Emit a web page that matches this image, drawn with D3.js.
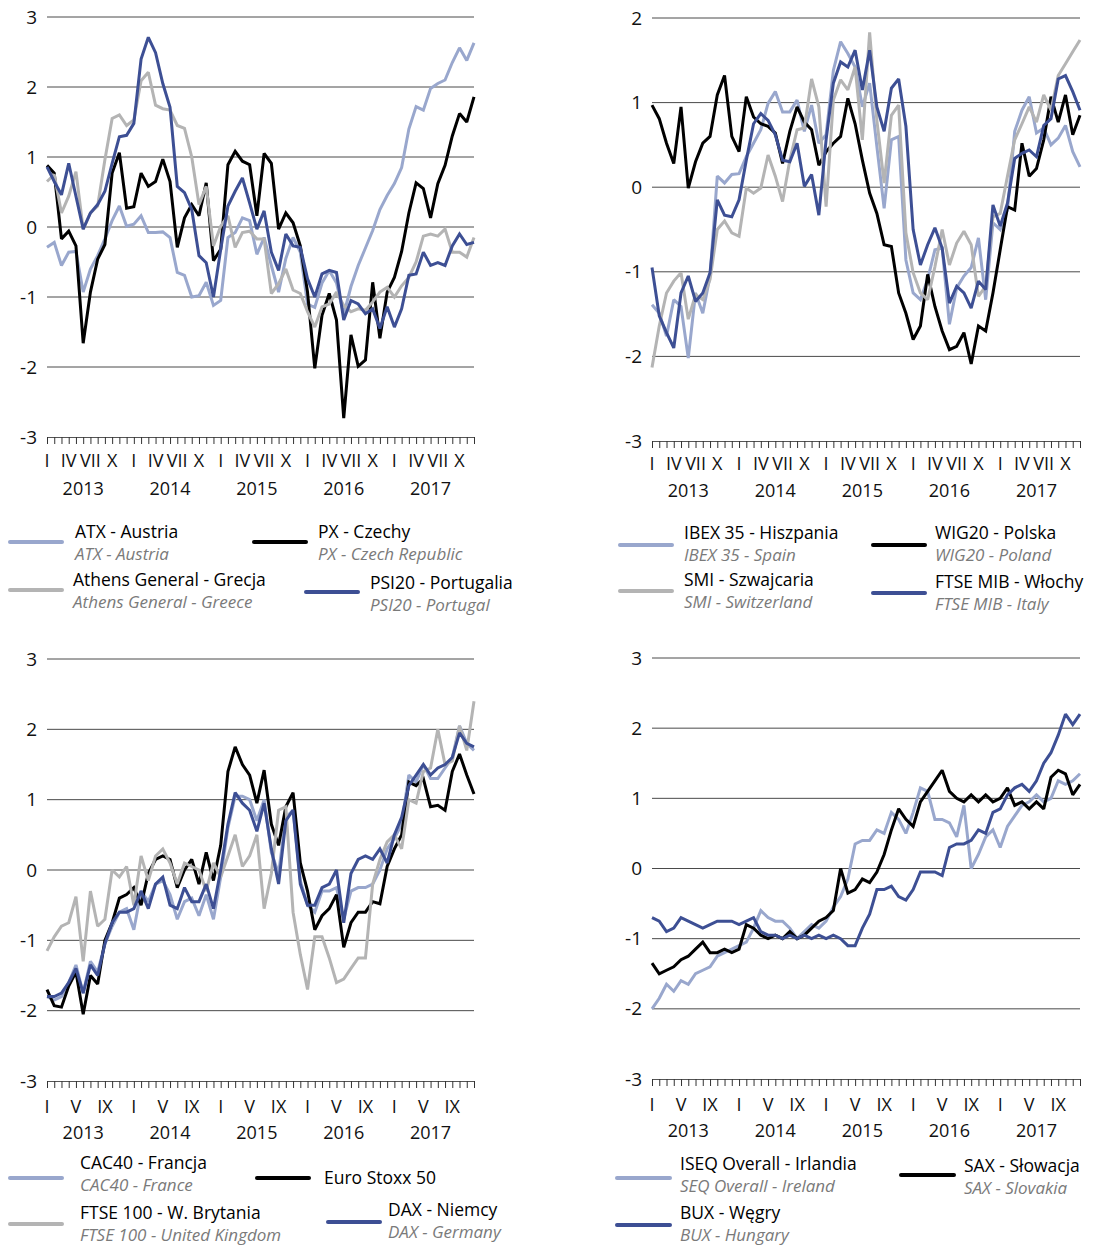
<!DOCTYPE html>
<html><head><meta charset="utf-8">
<script src="https://cdn.jsdelivr.net/npm/d3@7"></script>
<style>body{margin:0;background:#fff}svg{display:block}text{font-family:"Open Sans",sans-serif}</style>
</head><body><svg id="c" width="1111" height="1246"></svg>
<script>
const years = ["2013","2014","2015","2016","2017"];
const monthNames = ["I","II","III","IV","V","VI","VII","VIII","IX","X","XI","XII"];
const categories = years.flatMap(y => monthNames.map(m => y + "-" + m));
const topMonthTicks = ["I","IV","VII","X"];
const bottomMonthTicks = ["I","V","IX"];
const yTicksA = [3,2,1,0,-1,-2,-3];
const yTicksB = [2,1,0,-1,-2,-3];

// Panel 1
const atx = [-0.29,-0.22,-0.55,-0.36,-0.35,-0.93,-0.60,-0.41,-0.17,0.09,
 0.30,0.01,0.04,0.16,-0.08,-0.08,-0.07,-0.15,-0.65,-0.69,
 -1.0,-0.98,-0.79,-1.12,-1.05,-0.15,-0.08,0.13,0.09,-0.39,
 -0.15,-0.55,-0.93,-0.45,-0.15,-0.36,-1.1,-1.15,-0.8,-0.62,
 -0.8,-1.25,-0.85,-0.55,-0.3,-0.05,0.25,0.45,0.62,0.85,
 1.4,1.72,1.67,1.98,2.05,2.1,2.35,2.56,2.38,2.63];
const px = [0.88,0.77,-0.17,-0.06,-0.27,-1.66,-0.93,-0.46,-0.25,0.77,
 1.06,0.27,0.29,0.77,0.58,0.65,0.97,0.65,-0.29,0.13,
 0.32,0.16,0.63,-0.48,-0.32,0.89,1.08,0.94,0.89,0.16,
 1.05,0.91,-0.03,0.20,0.06,-0.27,-0.93,-2.02,-1.26,-0.95,
 -1.33,-2.73,-1.54,-1.99,-1.90,-0.79,-1.59,-0.93,-0.72,-0.35,
 0.2,0.63,0.55,0.13,0.62,0.88,1.3,1.62,1.5,1.86];
const athens = [0.65,0.75,0.2,0.44,0.79,-0.03,0.2,0.3,0.96,1.55,
 1.6,1.45,1.53,2.09,2.21,1.74,1.69,1.67,1.45,1.41,
 1.0,0.32,0.58,-0.27,0.01,0.16,-0.29,-0.08,-0.06,-0.17,
 -0.17,-0.95,-0.81,-0.6,-0.9,-0.95,-1.21,-1.43,-1.14,-1.1,
 -0.93,-1.12,-1.21,-1.17,-1.19,-1.07,-0.93,-0.86,-1.0,-0.84,
 -0.72,-0.5,-0.13,-0.1,-0.13,-0.03,-0.36,-0.36,-0.43,-0.15];
const psi20 = [0.86,0.65,0.46,0.91,0.44,-0.03,0.2,0.32,0.51,0.91,
 1.29,1.31,1.48,2.4,2.71,2.49,2.05,1.71,0.58,0.49,
 0.25,-0.41,-0.51,-1.0,-0.32,0.3,0.51,0.7,0.34,-0.03,
 0.23,-0.36,-0.62,-0.1,-0.27,-0.29,-0.74,-1.0,-0.67,-0.62,
 -0.65,-1.33,-1.05,-1.1,-1.24,-1.17,-1.45,-1.14,-1.43,-1.17,
 -0.69,-0.67,-0.36,-0.55,-0.51,-0.55,-0.27,-0.1,-0.25,-0.22];

// Panel 2
const ibex = [-1.39,-1.49,-1.76,-1.33,-1.41,-2.02,-1.25,-1.49,-1.05,0.13,
 0.05,0.15,0.16,0.36,0.52,0.68,0.99,1.13,0.89,0.89,
 1.03,0.66,0.97,0.52,0.62,1.38,1.72,1.58,1.42,0.95,
 1.23,0.48,-0.25,0.56,0.6,-0.86,-1.25,-1.33,-1.09,-0.74,
 -0.72,-1.62,-1.19,-1.05,-0.95,-0.6,-1.33,-0.42,-0.5,-0.27,
 0.66,0.91,1.07,0.64,0.7,0.5,0.58,0.73,0.42,0.24];
const wig20 = [0.97,0.81,0.52,0.28,0.95,-0.01,0.3,0.52,0.6,1.09,
 1.32,0.6,0.42,1.07,0.83,0.75,0.72,0.64,0.28,0.66,
 0.95,0.77,0.68,0.26,0.42,0.52,0.6,1.05,0.75,0.32,
 -0.07,-0.31,-0.68,-0.7,-1.25,-1.49,-1.8,-1.64,-1.03,-1.41,
 -1.7,-1.92,-1.88,-1.72,-2.09,-1.64,-1.7,-1.25,-0.74,-0.23,
 -0.27,0.52,0.13,0.22,0.56,1.07,0.77,1.09,0.62,0.85];
const smi = [-2.13,-1.64,-1.25,-1.11,-1.01,-1.56,-1.27,-1.33,-1.09,-0.5,
 -0.4,-0.54,-0.58,-0.01,-0.07,-0.01,0.38,0.13,-0.17,0.32,
 0.68,0.7,1.28,0.95,-0.23,1.03,1.27,1.15,1.42,0.56,
 1.83,0.79,0.05,0.85,0.97,-0.54,-1.01,-1.25,-1.33,-0.94,
 -0.5,-0.92,-0.66,-0.52,-0.68,-1.29,-1.17,-0.35,-0.31,0.13,
 0.56,0.75,0.95,0.77,1.09,0.91,1.32,1.46,1.6,1.74];
const ftsemib = [-0.95,-1.52,-1.72,-1.9,-1.25,-1.05,-1.35,-1.25,-1.01,-0.15,
 -0.33,-0.35,-0.15,0.32,0.75,0.87,0.79,0.62,0.32,0.3,
 0.52,0.01,0.15,-0.33,0.56,1.23,1.48,1.42,1.62,1.15,
 1.62,0.95,0.66,1.17,1.28,0.72,-0.5,-0.92,-0.68,-0.48,
 -0.72,-1.37,-1.17,-1.25,-1.43,-1.11,-1.21,-0.21,-0.46,-0.19,
 0.34,0.4,0.44,0.36,0.73,0.81,1.28,1.32,1.13,0.91];

// Panel 3
const cac40 = [-1.8,-1.85,-1.8,-1.6,-1.35,-1.75,-1.3,-1.45,-1.05,-0.8,
 -0.6,-0.55,-0.85,-0.3,-0.45,-0.2,-0.15,-0.35,-0.7,-0.45,
 -0.4,-0.65,-0.35,-0.7,-0.1,0.6,1.05,1.05,1.0,0.7,
 1.0,0.25,-0.05,0.75,0.85,-0.15,-0.5,-0.6,-0.3,-0.3,
 -0.25,-0.7,-0.3,-0.25,-0.25,-0.2,0.0,0.3,0.45,0.65,
 1.35,1.25,1.5,1.3,1.3,1.45,1.6,2.05,1.8,1.7];
const eurostoxx = [-1.7,-1.93,-1.95,-1.65,-1.45,-2.05,-1.5,-1.62,-1.0,-0.75,
 -0.4,-0.35,-0.25,-0.5,-0.05,0.15,0.2,0.15,-0.25,0.0,
 0.15,-0.2,0.25,-0.15,0.35,1.4,1.75,1.5,1.35,0.95,
 1.42,0.65,0.35,0.9,1.1,0.1,-0.3,-0.85,-0.65,-0.55,
 -0.35,-1.1,-0.75,-0.6,-0.6,-0.45,-0.48,0.05,0.3,0.5,
 1.25,1.2,1.3,0.9,0.92,0.85,1.4,1.65,1.35,1.08];
const ftse100 = [-1.15,-0.95,-0.8,-0.75,-0.38,-1.3,-0.3,-0.8,-0.7,0.0,
 -0.1,0.05,-0.5,0.2,-0.15,0.2,0.3,0.1,-0.2,0.1,
 0.05,0.0,-0.3,0.1,-0.1,0.2,0.5,0.05,0.2,0.5,
 -0.55,-0.05,0.85,0.9,-0.6,-1.2,-1.7,-0.95,-0.95,-1.25,
 -1.6,-1.55,-1.4,-1.25,-1.25,-0.2,0.15,0.4,0.5,0.3,
 1.0,0.95,1.4,1.45,2.0,1.5,1.55,2.05,1.7,2.4];
const dax = [-1.8,-1.8,-1.75,-1.6,-1.4,-1.75,-1.35,-1.5,-1.05,-0.75,
 -0.6,-0.6,-0.55,-0.3,-0.55,-0.2,-0.1,-0.5,-0.55,-0.25,
 -0.45,-0.45,-0.2,-0.55,0.0,0.65,1.1,0.95,0.85,0.55,
 0.95,0.3,-0.2,0.7,0.85,-0.2,-0.5,-0.5,-0.25,-0.2,
 0.0,-0.75,-0.05,0.15,0.2,0.15,0.3,0.1,0.5,0.75,
 1.2,1.35,1.5,1.35,1.45,1.5,1.6,1.95,1.8,1.75];

// Panel 4
const iseq = [-2.0,-1.85,-1.65,-1.75,-1.6,-1.65,-1.5,-1.45,-1.4,-1.25,
 -1.2,-1.15,-1.1,-1.05,-0.85,-0.6,-0.7,-0.75,-0.75,-0.85,
 -1.0,-0.9,-0.8,-0.85,-0.75,-0.55,-0.4,-0.15,0.35,0.4,
 0.4,0.55,0.5,0.8,0.7,0.5,0.8,1.15,1.1,0.7,
 0.7,0.65,0.45,0.9,0.0,0.2,0.45,0.55,0.3,0.6,
 0.75,0.9,0.95,1.05,0.95,1.0,1.25,1.2,1.25,1.35];
const sax = [-1.35,-1.5,-1.45,-1.4,-1.3,-1.25,-1.15,-1.05,-1.2,-1.2,
 -1.15,-1.2,-1.15,-0.8,-0.85,-0.95,-1.0,-0.95,-1.0,-0.9,
 -1.0,-0.95,-0.85,-0.75,-0.7,-0.6,0.0,-0.35,-0.3,-0.15,
 -0.2,-0.05,0.2,0.55,0.85,0.7,0.6,0.95,1.1,1.25,
 1.4,1.1,1.0,0.95,1.05,0.95,1.05,0.95,1.0,1.15,
 0.9,0.95,0.85,0.95,0.85,1.3,1.4,1.35,1.05,1.2];
const bux = [-0.7,-0.75,-0.9,-0.85,-0.7,-0.75,-0.8,-0.85,-0.8,-0.75,
 -0.75,-0.75,-0.8,-0.75,-0.7,-0.9,-0.95,-0.95,-1.0,-0.95,
 -1.0,-0.95,-1.0,-0.95,-1.0,-0.95,-1.0,-1.1,-1.1,-0.85,
 -0.65,-0.3,-0.3,-0.25,-0.4,-0.45,-0.3,-0.05,-0.05,-0.05,
 -0.1,0.3,0.35,0.35,0.4,0.55,0.5,0.8,0.85,1.05,
 1.15,1.2,1.1,1.25,1.5,1.65,1.9,2.2,2.05,2.2];

const C = {lb:"#99a7cd", bk:"#000000", gr:"#b4b4b4", db:"#3d4f94"};

const svg = d3.select("#c");

function drawPanel(p) {
  const x = d3.scalePoint().domain(categories).range([p.x0, p.x1]);
  const y = d3.scaleLinear().domain(p.domain).range([p.yBot, p.yTop]);
  const g = svg.append("g");
  g.selectAll("line.grid").data(p.yTicks.filter(v => v !== p.domain[0])).enter().append("line")
    .attr("x1", p.x0).attr("x2", p.x1).attr("y1", d => y(d)).attr("y2", d => y(d))
    .attr("stroke", "#4a4a4a").attr("stroke-width", 1);
  const ax = d3.axisBottom(x).tickSize(7).tickFormat("").tickSizeOuter(0);
  const axg = g.append("g").attr("transform", `translate(0,${y(p.domain[0])})`).call(ax);
  axg.select(".domain").attr("stroke", "#555").attr("stroke-width", 1.2);
  axg.selectAll(".tick line").attr("stroke", "#333").attr("stroke-width", 1);
  g.selectAll("text.yl").data(p.yTicks).enter().append("text")
    .attr("x", p.x0 - 10).attr("y", d => y(d)).attr("dy", "0.35em")
    .attr("text-anchor", "end").attr("font-size", 19).attr("fill", "#111")
    .text(d => d);
  const monthLabels = [];
  years.forEach(yr => p.monthTicks.forEach(m => monthLabels.push({c: yr + "-" + m, t: m})));
  g.selectAll("text.ml").data(monthLabels).enter().append("text")
    .attr("x", d => x(d.c)).attr("y", p.monthY).attr("text-anchor", "middle")
    .attr("font-size", 18).attr("fill", "#111").text(d => d.t);
  g.selectAll("text.yr").data(years).enter().append("text")
    .attr("x", d => x(d + "-VI")).attr("y", p.yearY).attr("text-anchor", "middle")
    .attr("font-size", 18).attr("fill", "#111").text(d => d);
  const line = d3.line().x((d, i) => x(categories[i])).y(d => y(d));
  p.series.forEach(s => {
    g.append("path").datum(s.values).attr("d", line)
      .attr("fill", "none").attr("stroke", s.color).attr("stroke-width", 3)
      .attr("stroke-linejoin", "miter").attr("stroke-miterlimit", 2);
  });
  p.legend.forEach(l => {
    g.append("line").attr("x1", l.sx1).attr("x2", l.sx2).attr("y1", l.sy).attr("y2", l.sy)
      .attr("stroke", l.color).attr("stroke-width", 4).attr("stroke-linecap", "round");
    g.append("text").attr("x", l.tx).attr("y", l.ty).attr("font-size", 17.5).attr("fill", "#000").text(l.pl);
    if (l.en) g.append("text").attr("x", l.tx).attr("y", l.ty + 21.5).attr("font-size", 17)
      .attr("font-style", "italic").attr("fill", "#7a7a7a").text(l.en);
  });
}

drawPanel({x0:47, x1:474, yTop:17, yBot:437, domain:[-3,3], yTicks:yTicksA,
  monthTicks: topMonthTicks, monthY:467, yearY:495,
  series:[{values:atx,color:C.lb},{values:px,color:C.bk},{values:athens,color:C.gr},{values:psi20,color:C.db}],
  legend:[
    {color:C.lb, sx1:10, sx2:62, sy:542, tx:75, ty:538, pl:"ATX - Austria", en:"ATX - Austria"},
    {color:C.bk, sx1:254, sx2:306, sy:542, tx:318, ty:538, pl:"PX - Czechy", en:"PX - Czech Republic"},
    {color:C.gr, sx1:10, sx2:62, sy:590, tx:73, ty:586, pl:"Athens General - Grecja", en:"Athens General - Greece"},
    {color:C.db, sx1:306, sx2:358, sy:592, tx:370, ty:589, pl:"PSI20 - Portugalia", en:"PSI20 - Portugal"}
  ]});

drawPanel({x0:652, x1:1080, yTop:18, yBot:441, domain:[-3,2], yTicks:yTicksB,
  monthTicks: topMonthTicks, monthY:470, yearY:497,
  series:[{values:ibex,color:C.lb},{values:wig20,color:C.bk},{values:smi,color:C.gr},{values:ftsemib,color:C.db}],
  legend:[
    {color:C.lb, sx1:620, sx2:672, sy:545, tx:684, ty:539, pl:"IBEX 35 - Hiszpania", en:"IBEX 35 - Spain"},
    {color:C.bk, sx1:873, sx2:925, sy:545, tx:935, ty:539, pl:"WIG20 - Polska", en:"WIG20 - Poland"},
    {color:C.gr, sx1:620, sx2:672, sy:591, tx:684, ty:586, pl:"SMI - Szwajcaria", en:"SMI - Switzerland"},
    {color:C.db, sx1:873, sx2:925, sy:593, tx:935, ty:588, pl:"FTSE MIB - Włochy", en:"FTSE MIB - Italy"}
  ]});

drawPanel({x0:47, x1:474, yTop:659, yBot:1081, domain:[-3,3], yTicks:yTicksA,
  monthTicks: bottomMonthTicks, monthY:1113, yearY:1139,
  series:[{values:cac40,color:C.lb},{values:eurostoxx,color:C.bk},{values:ftse100,color:C.gr},{values:dax,color:C.db}],
  legend:[
    {color:C.lb, sx1:10, sx2:62, sy:1178, tx:80, ty:1169, pl:"CAC40 - Francja", en:"CAC40 - France"},
    {color:C.bk, sx1:257, sx2:309, sy:1178, tx:324, ty:1184, pl:"Euro Stoxx 50", en:null},
    {color:C.gr, sx1:10, sx2:62, sy:1224, tx:80, ty:1219, pl:"FTSE 100 - W. Brytania", en:"FTSE 100 - United Kingdom"},
    {color:C.db, sx1:328, sx2:380, sy:1222, tx:388, ty:1216, pl:"DAX - Niemcy", en:"DAX - Germany"}
  ]});

drawPanel({x0:652, x1:1080, yTop:658, yBot:1079, domain:[-3,3], yTicks:yTicksA,
  monthTicks: bottomMonthTicks, monthY:1111, yearY:1137,
  series:[{values:iseq,color:C.lb},{values:sax,color:C.bk},{values:bux,color:C.db}],
  legend:[
    {color:C.lb, sx1:617, sx2:670, sy:1178, tx:680, ty:1170, pl:"ISEQ Overall - Irlandia", en:"SEQ Overall - Ireland"},
    {color:C.bk, sx1:901, sx2:954, sy:1175, tx:964, ty:1172, pl:"SAX - Słowacja", en:"SAX - Slovakia"},
    {color:C.db, sx1:617, sx2:670, sy:1225, tx:680, ty:1219, pl:"BUX - Węgry", en:"BUX - Hungary"}
  ]});
</script></body></html>
